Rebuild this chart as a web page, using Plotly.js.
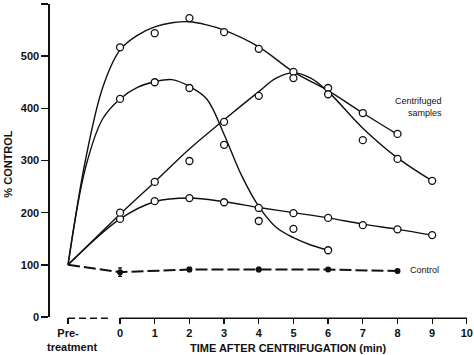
<!DOCTYPE html>
<html>
<head>
<meta charset="utf-8">
<script src="https://cdn.plot.ly/plotly-3.0.1.min.js"></script>
<style>html,body{margin:0;padding:0;background:#fff;}#chart{width:474px;height:355px;}</style>
</head>
<body>
<div id="chart"></div>
<script>
// ---- Data ----
var tickVals = [-1.5, 0, 1, 2, 3, 4, 5, 6, 7, 8, 9, 10];
var tickText = ['Pre-', '0', '1', '2', '3', '4', '5', '6', '7', '8', '9', '10'];
var yTickVals = [0, 100, 200, 300, 400, 500, 600];

// Measured points (open circles)
var ptsA_x = [0, 1, 2, 3, 4, 5, 6, 7, 8];
var ptsA_y = [517, 544, 573, 546, 514, 470, 439, 391, 351];
var ptsB_x = [0, 1, 2, 3, 4, 5, 6];
var ptsB_y = [418, 450, 439, 330, 184, 169, 128];
var ptsC_x = [0, 1, 2, 3, 4, 5, 6, 7, 8, 9];
var ptsC_y = [188, 222, 228, 220, 209, 199, 190, 176, 168, 157];
var ptsD_x = [0, 1, 2, 3, 4, 5, 6, 7, 8, 9];
var ptsD_y = [200, 259, 299, 374, 424, 458, 427, 339, 303, 261];

// Hand-drawn fitted curves (knots)
var fitA_x = [-1.5, -1.0, -0.5, 0, 0.5, 1, 1.5, 2, 2.5, 3, 4, 5, 6, 7, 8];
var fitA_y = [100, 300, 440, 512, 540, 556, 564, 566, 560, 550, 518, 470, 434, 391, 350];
var fitB_x = [-1.5, -1.0, -0.5, 0, 0.5, 1, 1.5, 2, 2.5, 3, 3.5, 4, 4.5, 5, 5.5, 6];
var fitB_y = [100, 285, 380, 418, 440, 451, 455, 442, 418, 350, 272, 212, 172, 152, 138, 128];
var fitC_x = [-1.5, 0, 1, 2, 3, 4, 5, 6, 7, 8, 9];
var fitC_y = [100, 188, 221, 228, 221, 210, 200, 190, 178, 168, 157];
var fitD_x = [-1.5, 0, 1, 2, 3, 4, 4.5, 5, 5.5, 6, 7, 8, 9];
var fitD_y = [100, 197, 259, 322, 378, 432, 458, 468, 458, 432, 362, 305, 261];

// Control (filled circles, dashed line, error bars)
var ctrl_x = [-1.5, 0, 2, 4, 6, 8];
var ctrl_y = [100, 86, 91, 91, 91, 88];
var ctrl_err = [0, 8, 4, 4, 3, 3];

var FONT = 'Liberation Sans, Arial, Helvetica, sans-serif';
var INK = '#111';

function fit(x, y) {
  return {x: x, y: y, type: 'scatter', mode: 'lines',
    line: {color: INK, width: 1.4, shape: 'spline', smoothing: 1},
    hoverinfo: 'skip', showlegend: false};
}
function pts(x, y) {
  return {x: x, y: y, type: 'scatter', mode: 'markers',
    marker: {symbol: 'circle', size: 7, color: '#fff', line: {color: INK, width: 1.3}},
    showlegend: false, cliponaxis: false};
}

var traces = [
  fit(fitA_x, fitA_y), fit(fitB_x, fitB_y), fit(fitC_x, fitC_y), fit(fitD_x, fitD_y),
  {x: ctrl_x, y: ctrl_y, type: 'scatter', mode: 'lines',
   line: {color: INK, width: 2, dash: '12px,4px'}, showlegend: false},
  {x: ctrl_x.slice(1), y: ctrl_y.slice(1), type: 'scatter', mode: 'markers',
   marker: {symbol: 'circle', size: 6, color: INK},
   error_y: {type: 'data', array: ctrl_err.slice(1), visible: true, color: INK, thickness: 1.3, width: 2},
   showlegend: false},
  pts(ptsA_x, ptsA_y), pts(ptsB_x, ptsB_y), pts(ptsC_x, ptsC_y), pts(ptsD_x, ptsD_y)
];

var layout = {
  width: 474, height: 355,
  margin: {l: 50, r: 3, t: 4, b: 38},
  paper_bgcolor: '#fff', plot_bgcolor: '#fff',
  font: {family: FONT, color: INK},
  showlegend: false,
  xaxis: {
    range: [-2.02, 10.12], showgrid: false, zeroline: false, showline: false,
    tickmode: 'array', tickvals: tickVals, ticktext: tickText,
    ticks: 'outside', ticklen: 6, tickwidth: 1.3, tickcolor: INK,
    tickfont: {family: FONT, size: 11, color: INK, weight: 'bold'}
  },
  yaxis: {
    range: [0, 600], showgrid: false, zeroline: false,
    showline: true, linewidth: 1.6, linecolor: INK,
    tickmode: 'array', tickvals: yTickVals,
    ticks: 'outside', ticklen: 7, tickwidth: 1.5, tickcolor: INK,
    tickfont: {family: FONT, size: 11, color: INK, weight: 'bold'}
  },
  shapes: [
    {type: 'line', xref: 'x', yref: 'paper', x0: 0, x1: 10, y0: -0.004, y1: -0.004,
     line: {color: INK, width: 1.5}},
    {type: 'line', xref: 'x', yref: 'paper', x0: -1.5, x1: -0.35, y0: -0.004, y1: -0.004,
     line: {color: INK, width: 1.5, dash: '7px,4px'}}
  ],
  annotations: [
    {text: 'treatment', xref: 'x', yref: 'paper', x: -1.4, y: 0, yshift: -30,
     xanchor: 'center', yanchor: 'middle', showarrow: false,
     font: {family: FONT, size: 11, color: INK, weight: 'bold'}},
    {text: 'TIME AFTER CENTRIFUGATION (min)', xref: 'x', yref: 'paper', x: 4.85, y: 0, yshift: -31,
     xanchor: 'center', yanchor: 'middle', showarrow: false,
     font: {family: FONT, size: 11, color: INK, weight: 'bold'}},
    {text: '% CONTROL', xref: 'paper', yref: 'paper', x: 0, xshift: -42, y: 0.49,
     xanchor: 'center', yanchor: 'middle', textangle: -90, showarrow: false,
     font: {family: FONT, size: 11, color: INK, weight: 'bold'}},
    {text: 'Centrifuged<br>samples', xref: 'x', yref: 'y', x: 8.6, y: 403,
     xanchor: 'center', yanchor: 'middle', showarrow: false, align: 'right',
     font: {family: FONT, size: 9, color: INK}},
    {text: 'Control', xref: 'x', yref: 'y', x: 8.3, y: 90,
     xanchor: 'left', yanchor: 'middle', showarrow: false,
     font: {family: FONT, size: 9, color: INK}}
  ]
};

Plotly.newPlot('chart', traces, layout, {displayModeBar: false, staticPlot: true});
</script>
</body>
</html>
